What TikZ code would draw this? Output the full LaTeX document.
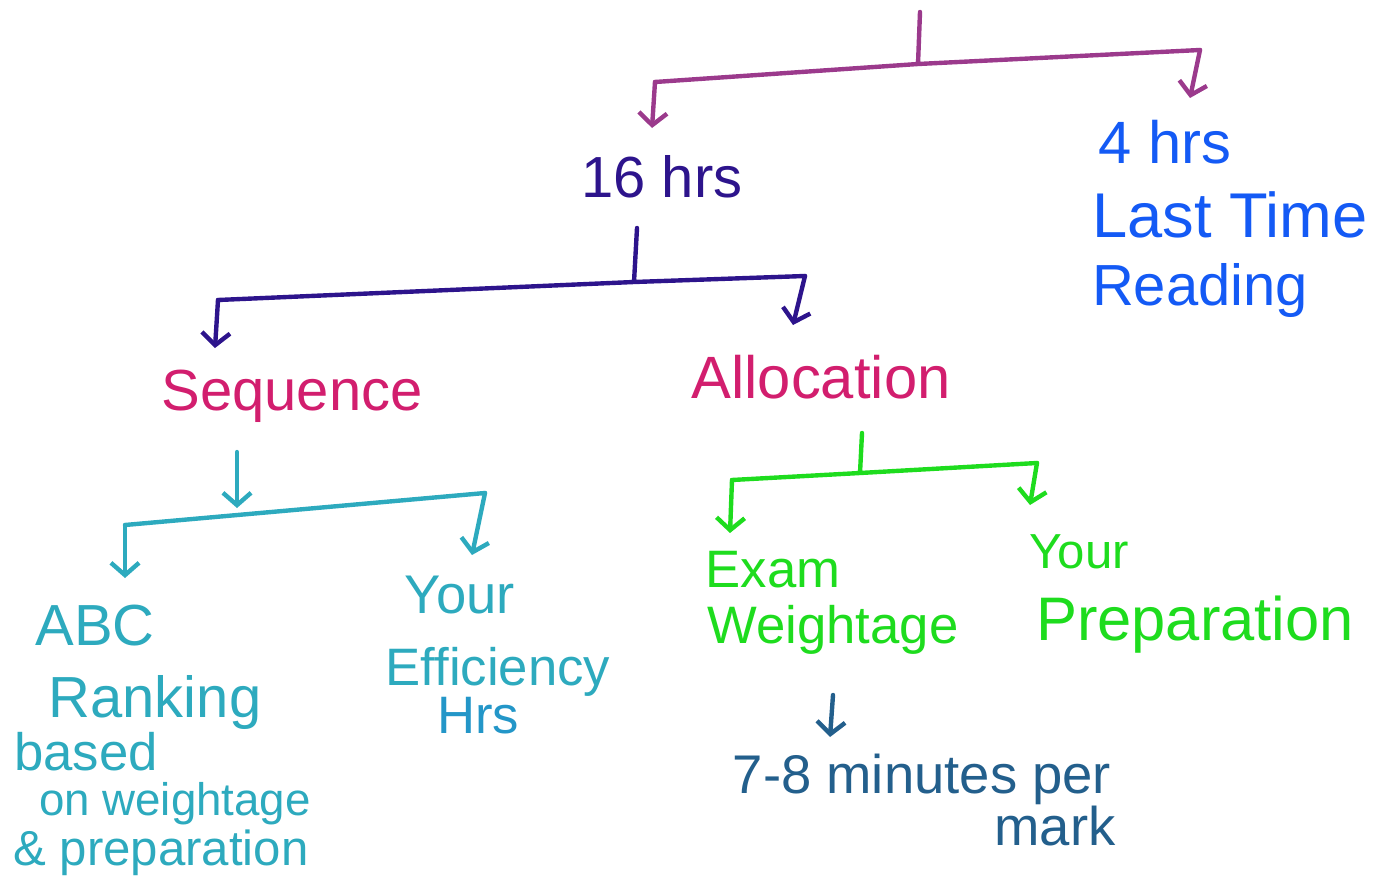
\documentclass[tikz,border=0pt]{standalone}
\usepackage{fontspec}
\setmainfont{Liberation Sans}
\usetikzlibrary{arrows.meta}
\definecolor{topc}{RGB}{155,58,140}
\definecolor{indigoc}{RGB}{45,20,140}
\definecolor{bluec}{RGB}{20,90,245}
\definecolor{crimc}{RGB}{210,30,110}
\definecolor{tealc}{RGB}{45,170,190}
\definecolor{hrsc}{RGB}{35,150,200}
\definecolor{greenc}{RGB}{30,220,30}
\definecolor{darkc}{RGB}{35,95,140}
\begin{document}
\begin{tikzpicture}[x=0.02cm,y=-0.02cm,line width=2.5pt,line join=round,line cap=round,
  >={Straight Barb[length=7pt,width=16pt]},
  hand/.style={font=\fontsize{#1}{#1}\selectfont,anchor=base,inner sep=0pt},hand/.default=32]
\useasboundingbox (0,0) rectangle (1385,882);
% texts
\node[hand=33,indigoc] (hrs16) at (662,197) {16 hrs};
\node[hand=34,bluec] (hrs4) at (1165,163) {4 hrs};
\node[hand=36,bluec] (lasttime) at (1230,237) {Last Time};
\node[hand=33,bluec] (reading) at (1200,305) {Reading};
\node[hand=33,crimc] (seq) at (292,410) {Sequence};
\node[hand=34,crimc] (alloc) at (821,398) {Allocation};
\node[hand=33,tealc] (abc) at (95,645) {ABC};
\node[hand=33,tealc] (ranking) at (155,717) {Ranking};
\node[hand=30,tealc] (based) at (86,770) {based};
\node[hand=26,tealc] (onweight) at (175,815) {on weightage};
\node[hand=28,tealc] (andprep) at (161,865) {\& preparation};
\node[hand=31,tealc] (yourL) at (460,613) {Your};
\node[hand=30,tealc] (effic) at (498,685) {Efficiency};
\node[hand=30,hrsc] (hrsL) at (478,733) {Hrs};
\node[hand=30,greenc] (exam) at (773,587) {Exam};
\node[hand=30,greenc] (weight) at (833,643) {Weightage};
\node[hand=28,greenc] (yourR) at (1079,568) {Your};
\node[hand=35,greenc] (prep) at (1195,640) {Preparation};
\node[hand=31,darkc] (mins) at (922,793) {7-8 minutes per};
\node[hand=31,darkc] (mark) at (1055,845) {mark};
% split points
\coordinate (r0) at (920,12);    \coordinate (r1) at (918,64);
\coordinate (a0) at (655,82);    \coordinate (a1) at (1200,50);
\coordinate (t16) at (652,128);  \coordinate (t4) at (1190,98);
\coordinate (b0) at (637,228);   \coordinate (b1) at (634,282);
\coordinate (bl) at (218,300);   \coordinate (br) at (805,276);
\coordinate (tseq) at (215,348); \coordinate (talloc) at (793,325);
\coordinate (c0) at (237,452);   \coordinate (c1) at (237,508);
\coordinate (cl) at (125,525);   \coordinate (cr) at (485,493);
\coordinate (tabc) at (125,578); \coordinate (tyourL) at (472,555);
\coordinate (d0) at (862,433);   \coordinate (d1) at (860,473);
\coordinate (dl) at (732,480);   \coordinate (dr) at (1037,463);
\coordinate (texam) at (730,533);\coordinate (tyourR) at (1030,505);
\coordinate (e0) at (833,695);   \coordinate (e1) at (830,737);
% connectors
\draw[topc] (r0) -- (r1) (a0) -- (r1) -- (a1);
\draw[topc,->] (a0) -- (t16);
\draw[topc,->] (a1) -- (t4);
\draw[indigoc] (b0) -- (b1) (bl) -- (b1) -- (br);
\draw[indigoc,->] (bl) -- (tseq);
\draw[indigoc,->] (br) -- (talloc);
\draw[tealc,->] (c0) -- (c1);
\draw[tealc] (cl) -- (cr);
\draw[tealc,->] (cl) -- (tabc);
\draw[tealc,->] (cr) -- (tyourL);
\draw[greenc] (d0) -- (d1) (dl) -- (d1) -- (dr);
\draw[greenc,->] (dl) -- (texam);
\draw[greenc,->] (dr) -- (tyourR);
\draw[darkc,->] (e0) -- (e1);
\end{tikzpicture}
\end{document}
